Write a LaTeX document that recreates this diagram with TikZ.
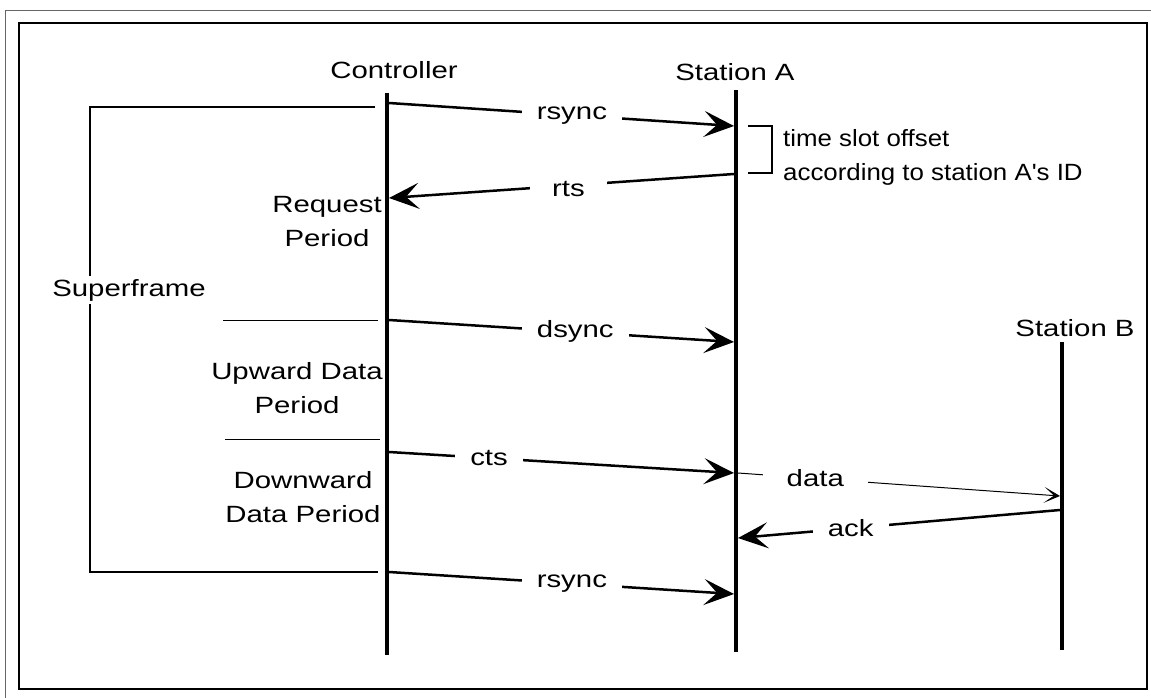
\documentclass[tikz,border=0pt]{standalone}
\usepackage{fontspec}
\setmainfont{Liberation Sans}[FakeStretch=1.25]
\newfontfamily\notefont{Liberation Sans}[FakeStretch=1.1]
\usetikzlibrary{arrows.meta}
\begin{document}
\begin{tikzpicture}[x=1pt,y=-1pt,
  lifeline/.style={line width=4.5pt},
  msg/.style={line width=2.5pt,-{Stealth[length=30pt,width=26pt,inset=13pt]}},
  thinmsg/.style={line width=1pt,-{Stealth[length=16pt,width=16pt,inset=10pt]}},
  lbl/.style={fill=white,inner xsep=15pt,inner ysep=2pt,font=\fontsize{23.5}{34}\selectfont},
  txt/.style={font=\fontsize{23.5}{34}\selectfont,align=center,inner sep=0pt},
  frameline/.style={line width=1.4pt},
  divider/.style={line width=0.9pt}]
\useasboundingbox (0,0) rectangle (1151,698);
\fill[white] (0,0) rectangle (1151,698);

% outer and inner frames
\draw[line width=1pt,black!60] (5,698) -- (5,11) -- (1151,11);
\draw[frameline] (19,23) rectangle (1147,689);

% lifelines
\coordinate (C0) at (387,93);   \coordinate (C1) at (387,655);
\coordinate (A0) at (736,90);   \coordinate (A1) at (736,652);
\coordinate (B0) at (1062,342); \coordinate (B1) at (1062,650);
\draw[lifeline] (C0) -- (C1);
\draw[lifeline] (A0) -- (A1);
\draw[lifeline] (B0) -- (B1);

\node[txt,anchor=base] (ctl) at (394,79) {Controller};
\node[txt,anchor=base] (sta) at (735,81) {Station A};
\node[txt,anchor=base] (stb) at (1075,336) {Station B};

% superframe bracket and period dividers
\draw[frameline] (375,107) -- (90,107) -- (90,572) -- (378,572);
\node[txt,fill=white,inner ysep=3pt] (sf) at (129,290) {Superframe};
\draw[divider] (223,320) -- (378,320);
\draw[divider] (225,439) -- (380,439);

\node[txt] (req) at (327,222) {Request\\Period};
\node[txt] (up) at (297,388) {Upward Data\\Period};
\node[txt] (down) at (303,497) {Downward\\Data Period};

% message end points
\coordinate (C-rs1) at (389,103);  \coordinate (A-rs1) at (734,126);
\coordinate (A-rts) at (734,174);  \coordinate (C-rts) at (389,198);
\coordinate (C-ds) at (389,320);   \coordinate (A-ds) at (734,342);
\coordinate (C-cts) at (389,452);  \coordinate (A-cts) at (734,473);
\coordinate (A-data) at (738,473); \coordinate (B-data) at (1060,496);
\coordinate (B-ack) at (1060,510); \coordinate (A-ack) at (738,538);
\coordinate (C-rs2) at (389,572);  \coordinate (A-rs2) at (734,594);

\draw[msg] (C-rs1) -- node[lbl,pos=0.53] {rsync} (A-rs1);
\draw[msg] (A-rts) -- node[lbl,pos=0.48,inner xsep=22pt,yshift=-3pt] {rts} (C-rts);
\draw[msg] (C-ds) -- node[lbl,pos=0.54] {dsync} (A-ds);
\draw[msg] (C-cts) -- node[lbl,pos=0.29] {cts} (A-cts);
\draw[thinmsg] (A-data) -- node[lbl,pos=0.24,inner xsep=24pt] {data} (B-data);
\draw[msg] (B-ack) -- node[lbl,pos=0.65] {ack} (A-ack);
\draw[msg] (C-rs2) -- node[lbl,pos=0.53] {rsync} (A-rs2);

% time slot offset bracket
\draw[line width=1.8pt] (748,126) -- (772,126) -- (772,173) -- (748,173);
\node[txt,align=left,anchor=north west,font=\notefont\fontsize{23.5}{34}\selectfont] (note) at (783,129)
  {time slot offset\\according to station A's ID};
\end{tikzpicture}
\end{document}
